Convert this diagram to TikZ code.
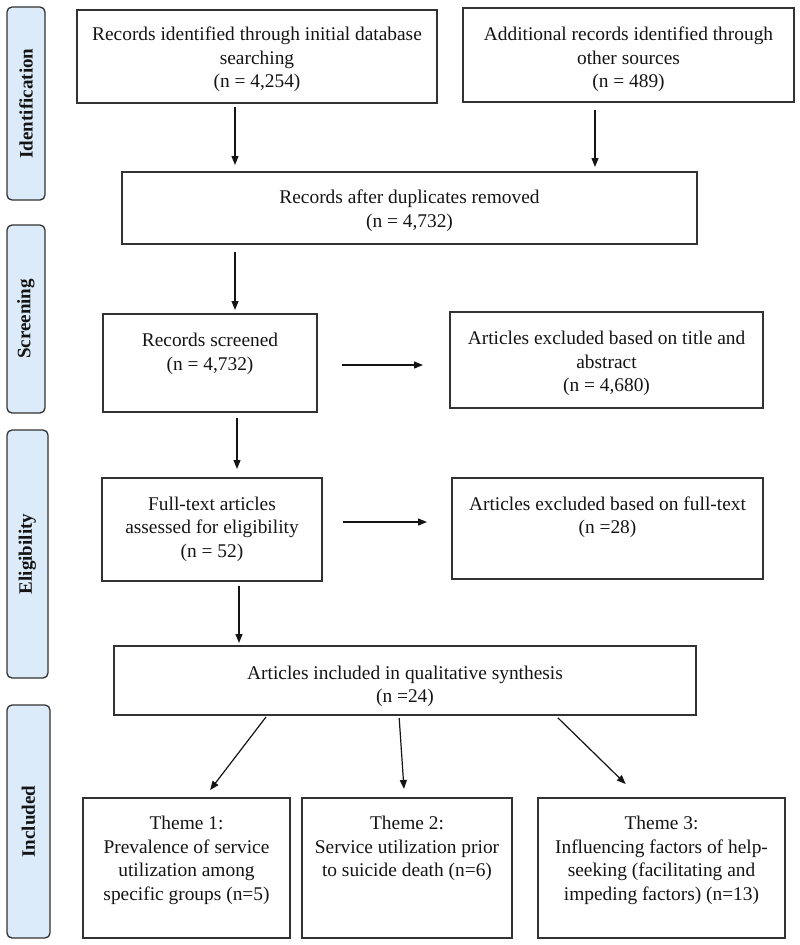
\documentclass[tikz,border=0pt]{standalone}
\usepackage{fontspec}
\setmainfont{Liberation Serif}
\usetikzlibrary{arrows.meta,fit}
\definecolor{barfill}{RGB}{220,235,250}
\definecolor{edge}{RGB}{50,50,50}
\definecolor{ink}{RGB}{20,20,20}
\begin{document}
\begin{tikzpicture}[x=1pt,y=-1pt,
  box/.style={draw=edge, line width=1.3pt, inner sep=0pt, outer sep=0pt},
  bar/.style={draw=edge, fill=barfill, line width=1.3pt, rounded corners=5pt, inner sep=0pt, outer sep=0pt},
  txt/.style={align=center, inner sep=0pt, anchor=north, text=ink, font=\fontsize{19.4}{23.4}\selectfont},
  lab/.style={rotate=90, font=\fontsize{19}{23}\selectfont\bfseries, text=ink, inner sep=0pt},
  arr/.style={draw=ink, line width=1.2pt, -{Triangle[length=9pt,width=7pt]}}]
\useasboundingbox (0,0) rectangle (800,945);

% phase bars
\node[bar, fit={(7,7) (45,200)}] (bid) {};
\node[bar, fit={(7,225) (45,413)}] (bsc) {};
\node[bar, fit={(7,430) (48,678)}] (bel) {};
\node[bar, fit={(7,705) (50,938)}] (bin) {};
\node[lab] (lid) at (bid.center) {Identification};
\node[lab] (lsc) at (bsc.center) {Screening};
\node[lab] (lel) at (bel.center) {Eligibility};
\node[lab] (lin) at (bin.center) {Included};

% boxes
\node[box, fit={(77,10) (437,103)}] (b1) {};
\node[box, fit={(463,8) (794,102)}] (b2) {};
\node[box, fit={(122,172) (697,244)}] (b3) {};
\node[box, fit={(103,314) (317,412)}] (b4) {};
\node[box, fit={(450,312) (763,408)}] (b5) {};
\node[box, fit={(102,478) (322,581)}] (b6) {};
\node[box, fit={(452,478) (763,579)}] (b7) {};
\node[box, fit={(114,646) (696,715)}] (b8) {};
\node[box, fit={(83,798) (290,938)}] (th1) {};
\node[box, fit={(302,798) (512,938)}] (th2) {};
\node[box, fit={(538,798) (785,938)}] (th3) {};

% texts (first line strut)
\node[txt] (t1) at (257,24.4) {\strut Records identified through initial database\\searching\\(n = 4,254)};
\node[txt] (t2) at (628.5,24.4) {\strut Additional records identified through\\other sources\\(n = 489)};
\node[txt] (t3) at (409.5,187.4) {\strut Records after duplicates removed\\(n = 4,732)};
\node[txt] (t4) at (210,330.4) {\strut Records screened\\(n = 4,732)};
\node[txt] (t5) at (606.5,328.4) {\strut Articles excluded based on title and\\abstract\\(n = 4,680)};
\node[txt] (t6) at (212,494) {\strut Full-text articles\\assessed for eligibility\\(n = 52)};
\node[txt] (t7) at (607.5,494) {\strut Articles excluded based on full-text\\(n =28)};
\node[txt] (t8) at (405,663) {\strut Articles included in qualitative synthesis\\(n =24)};
\node[txt] (tt1) at (186.5,813.4) {\strut Theme 1:\\Prevalence of service\\utilization among\\specific groups (n=5)};
\node[txt] (tt2) at (407,813.4) {\strut Theme 2:\\Service utilization prior\\to suicide death (n=6)};
\node[txt] (tt3) at (661.5,813.4) {\strut Theme 3:\\Influencing factors of help-\\seeking (facilitating and\\impeding factors) (n=13)};

% guide coordinates
\coordinate (xa) at (235,0);
\coordinate (xb) at (595,0);
\coordinate (xc) at (237,0);
\coordinate (xd) at (239,0);
\coordinate (ya) at (0,365);
\coordinate (yb) at (0,522);

% connectors
\draw[arr, shorten <=4pt, shorten >=7pt] (b1.south -| xa) -- (b3.north -| xa);
\draw[arr, shorten <=8pt, shorten >=5pt] (b2.south -| xb) -- (b3.north -| xb);
\draw[arr, shorten <=8pt, shorten >=4pt] (b3.south -| xa) -- (b4.north -| xa);
\draw[arr, shorten <=25pt, shorten >=27pt] (b4.east |- ya) -- (b5.west |- ya);
\draw[arr, shorten <=6pt, shorten >=9pt] (b4.south -| xc) -- (b6.north -| xc);
\draw[arr, shorten <=21pt, shorten >=25pt] (b6.east |- yb) -- (b7.west |- yb);
\draw[arr, shorten <=5pt, shorten >=3pt] (b6.south -| xd) -- (b8.north -| xd);
\draw[arr, shorten <=2.5pt, shorten >=10pt] ([xshift=-137.5pt]b8.south) -- ([xshift=17.5pt]th1.north);
\draw[arr, shorten <=3pt, shorten >=9pt] ([xshift=-6pt]b8.south) -- ([xshift=-2.4pt]th2.north);
\draw[arr, shorten <=4pt, shorten >=20pt] ([xshift=150pt]b8.south) -- ([xshift=-21.5pt]th3.north);
\end{tikzpicture}
\end{document}
